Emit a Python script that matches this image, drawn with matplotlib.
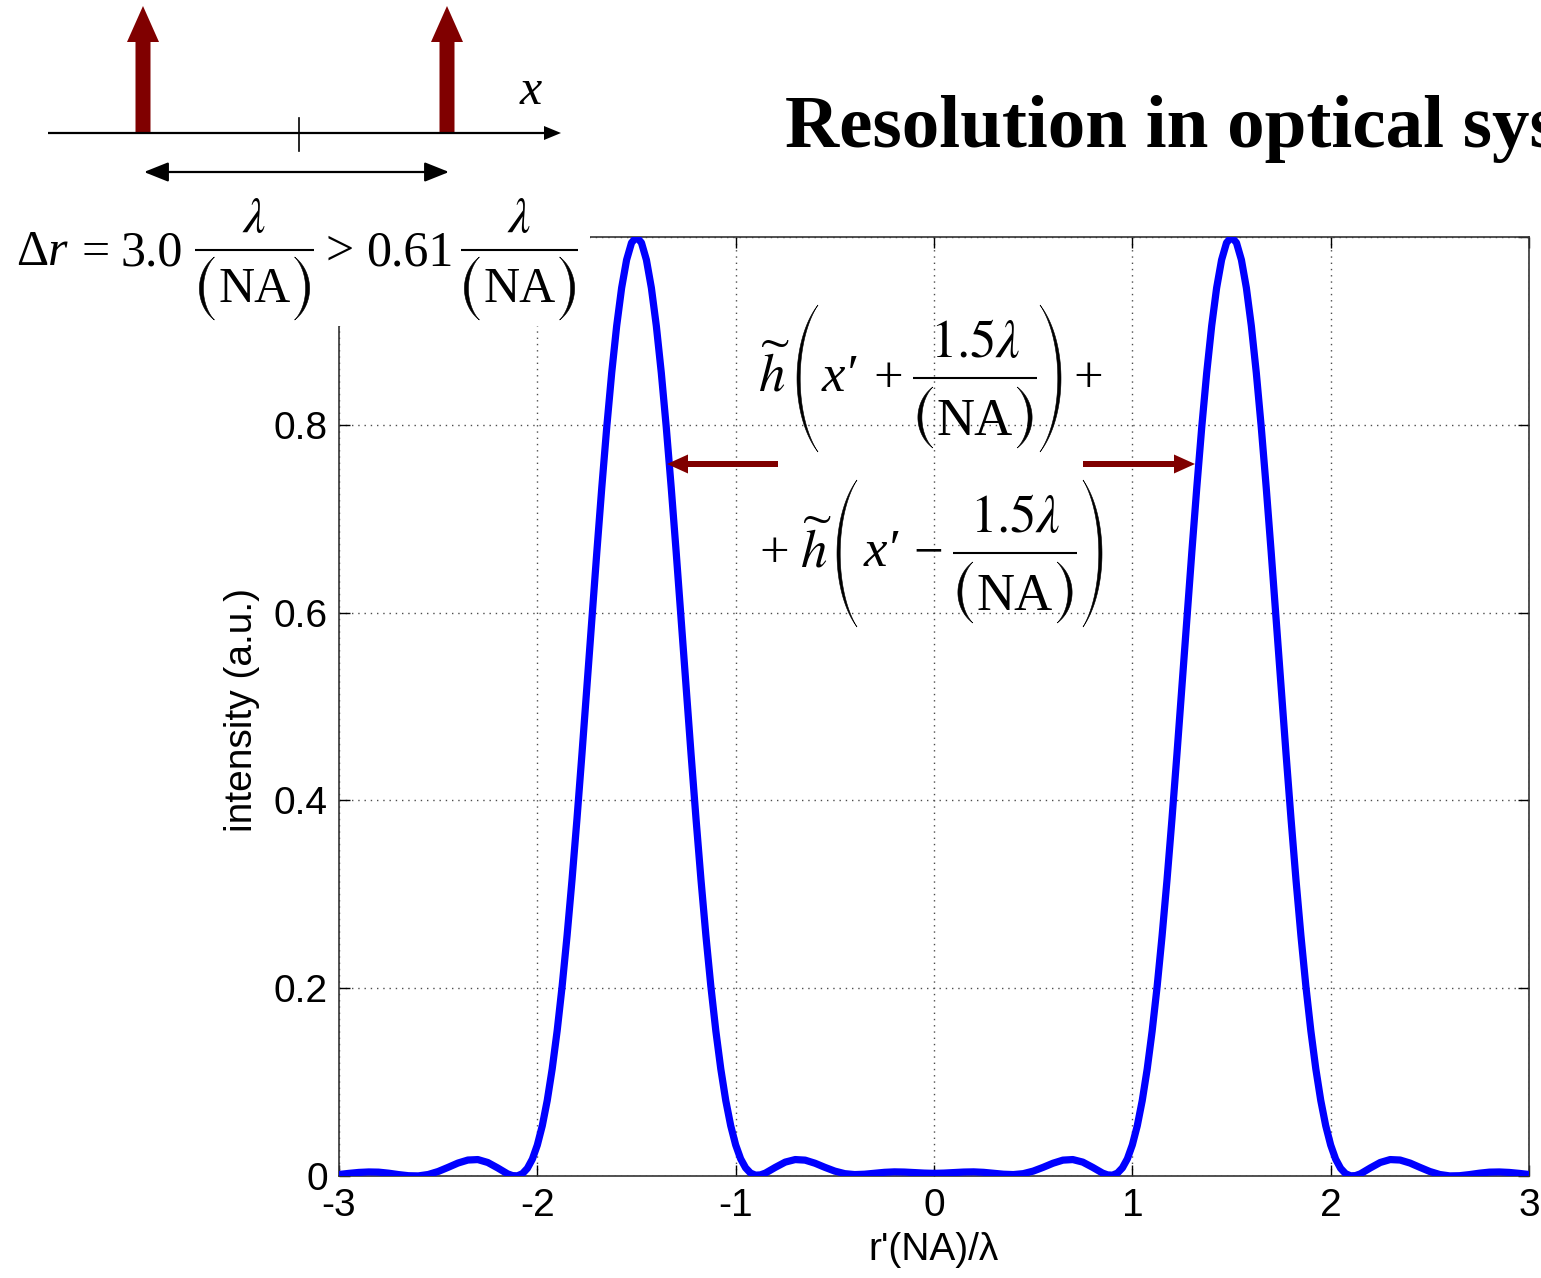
import math
import numpy as np
import matplotlib
matplotlib.use("Agg")
import matplotlib.pyplot as plt
from matplotlib.patches import Rectangle, FancyArrow, Polygon

# Two-point image: summed intensity of two shifted Airy spots
r_scaled = [
    -3.00, -2.95, -2.90, -2.85, -2.80, -2.75, -2.70, -2.65, -2.60, -2.55,
    -2.50, -2.45, -2.40, -2.35, -2.30, -2.25, -2.20, -2.15,
    -2.125, -2.100, -2.075, -2.050, -2.025, -2.000, -1.975, -1.950, -1.925,
    -1.900, -1.875, -1.850, -1.825, -1.800, -1.775, -1.750, -1.725, -1.700,
    -1.675, -1.650, -1.625, -1.600, -1.575, -1.550, -1.525, -1.500, -1.475,
    -1.450, -1.425, -1.400, -1.375, -1.350, -1.325, -1.300, -1.275, -1.250,
    -1.225, -1.200, -1.175, -1.150, -1.125, -1.100, -1.075, -1.050, -1.025,
    -1.000, -0.975, -0.950, -0.925, -0.900, -0.875,
    -0.85, -0.80, -0.75, -0.70, -0.65, -0.60, -0.55, -0.50, -0.45, -0.40,
    -0.35, -0.30, -0.25, -0.20, -0.15, -0.10, -0.05,
    0.00,
    0.05, 0.10, 0.15, 0.20, 0.25, 0.30, 0.35, 0.40, 0.45, 0.50,
    0.55, 0.60, 0.65, 0.70, 0.75, 0.80, 0.85,
    0.875, 0.900, 0.925, 0.950, 0.975, 1.000, 1.025, 1.050, 1.075, 1.100,
    1.125, 1.150, 1.175, 1.200, 1.225, 1.250, 1.275, 1.300, 1.325, 1.350,
    1.375, 1.400, 1.425, 1.450, 1.475, 1.500, 1.525, 1.550, 1.575, 1.600,
    1.625, 1.650, 1.675, 1.700, 1.725, 1.750, 1.775, 1.800, 1.825, 1.850,
    1.875, 1.900, 1.925, 1.950, 1.975, 2.000, 2.025, 2.050, 2.075, 2.100,
    2.125,
    2.15, 2.20, 2.25, 2.30, 2.35, 2.40, 2.45, 2.50, 2.55, 2.60,
    2.65, 2.70, 2.75, 2.80, 2.85, 2.90, 2.95, 3.00,
]

intensity = [
    0.0016, 0.0028, 0.0038, 0.0043, 0.0041, 0.0030, 0.0015, 0.0003, 0.0001, 0.0016,
    0.0048, 0.0092, 0.0138, 0.0170, 0.0175, 0.0144, 0.0086, 0.0023,
    0.0004, 0.0002, 0.0025, 0.0082, 0.0180, 0.0330, 0.0536, 0.0805, 0.1142,
    0.1547, 0.2021, 0.2561, 0.3157, 0.3806, 0.4495, 0.5209, 0.5931, 0.6645,
    0.7332, 0.7975, 0.8554, 0.9053, 0.9458, 0.9756, 0.9939, 1.0000, 0.9939,
    0.9756, 0.9458, 0.9053, 0.8554, 0.7975, 0.7332, 0.6645, 0.5931, 0.5209,
    0.4495, 0.3806, 0.3157, 0.2558, 0.2018, 0.1545, 0.1140, 0.0804, 0.0536,
    0.0331, 0.0183, 0.0087, 0.0031, 0.0009, 0.0012,
    0.0031, 0.0092, 0.0148, 0.0175, 0.0169, 0.0136, 0.0092, 0.0052, 0.0025, 0.0015,
    0.0019, 0.0029, 0.0039, 0.0044, 0.0042, 0.0036, 0.0031,
    0.0028,
    0.0031, 0.0036, 0.0042, 0.0044, 0.0039, 0.0029, 0.0019, 0.0015, 0.0025, 0.0052,
    0.0092, 0.0136, 0.0169, 0.0175, 0.0148, 0.0092, 0.0031,
    0.0012, 0.0009, 0.0031, 0.0087, 0.0183, 0.0331, 0.0536, 0.0804, 0.1140, 0.1545,
    0.2018, 0.2558, 0.3157, 0.3806, 0.4495, 0.5209, 0.5931, 0.6645, 0.7332, 0.7975,
    0.8554, 0.9053, 0.9458, 0.9756, 0.9939, 1.0000, 0.9939, 0.9756, 0.9458, 0.9053,
    0.8554, 0.7975, 0.7332, 0.6645, 0.5931, 0.5209, 0.4495, 0.3806, 0.3157, 0.2561,
    0.2021, 0.1547, 0.1142, 0.0805, 0.0536, 0.0330, 0.0180, 0.0082, 0.0025, 0.0002,
    0.0004,
    0.0023, 0.0086, 0.0144, 0.0175, 0.0170, 0.0138, 0.0092, 0.0048, 0.0016, 0.0001,
    0.0003, 0.0015, 0.0030, 0.0041, 0.0043, 0.0038, 0.0028, 0.0016,
]

x_ticks = [-3, -2, -1, 0, 1, 2, 3]
x_tick_labels = ["-3", "-2", "-1", "0", "1", "2", "3"]
y_ticks = [0, 0.2, 0.4, 0.6, 0.8, 1.0]
y_tick_labels = ["0", "0.2", "0.4", "0.6", "0.8", "1"]

plt.rcParams['mathtext.fontset'] = 'stix'
plt.rcParams['axes.unicode_minus'] = False
plt.rcParams['font.family'] = ['Liberation Sans', 'DejaVu Sans']

W, H = 1541, 1278
fig = plt.figure(figsize=(W / 100, H / 100), dpi=100)
fig.patch.set_facecolor('white')

ax = fig.add_axes([339 / W, 1 - 1176 / H, 1190 / W, 939 / H])
ax.plot(r_scaled, intensity, color=(0, 0, 1), lw=5.2,
        solid_joinstyle='round', solid_capstyle='butt', zorder=3)
ax.set_xlim(-3, 3)
ax.set_ylim(0, 1)
ax.set_xticks(x_ticks)
ax.set_xticklabels(x_tick_labels)
ax.set_yticks(y_ticks)
ax.set_yticklabels(y_tick_labels)
ax.tick_params(direction='in', length=8, width=1, top=True, right=True,
               labelsize=28, pad=9, colors='k')
ax.tick_params(axis='y', pad=8)
ax.grid(True, linestyle=(0, (1, 3.5)), color='0.3', lw=1)
for s in ax.spines.values():
    s.set_linewidth(1.2)
    s.set_color('0.2')
ax.set_xlabel("r'(NA)/λ", fontsize=28)
ax.set_ylabel("intensity (a.u.)", fontsize=28)
ax.xaxis.set_label_coords(0.5, -0.060)
ax.yaxis.set_label_coords(-0.066, 0.496)

# Overlay in pixel coordinates for the sketch, the formulas and the title
ov = fig.add_axes([0, 0, 1, 1], zorder=5)
ov.set_xlim(0, W)
ov.set_ylim(H, 0)
ov.axis('off')

ov.add_patch(Rectangle((0, 0), 590, 326, facecolor='white', edgecolor='none'))

dark_red = '#800000'
SERIF = ['Liberation Serif', 'DejaVu Serif']


def serif(x, y, s, fs, italic=False, ha='left'):
    ov.text(x, y, s, fontfamily=SERIF, fontsize=fs, ha=ha, va='baseline',
            fontstyle='italic' if italic else 'normal')


def paren(x_left, x_right, y_top, y_bot, side, thick):
    """Tapered round bracket drawn as a filled crescent."""
    alpha = math.radians(55)
    phi = np.linspace(-alpha, alpha, 60)
    hh = (y_bot - y_top) / 2
    cy = (y_top + y_bot) / 2
    ys = cy + hh * np.sin(phi) / math.sin(alpha)
    bulge = (np.cos(phi) - math.cos(alpha)) / (1 - math.cos(alpha))
    w = x_right - x_left
    if side == 'left':
        outer = x_right - w * bulge
        inner = x_right - (w - thick) * bulge
    else:
        outer = x_left + w * bulge
        inner = x_left + (w - thick) * bulge
    pts = np.concatenate([np.column_stack([outer, ys]),
                          np.column_stack([inner[::-1], ys[::-1]])])
    ov.add_patch(Polygon(pts, closed=True, facecolor='k', edgecolor='k', lw=0.4))


def na_fraction(x0, x1, bar_y, num, fs, num_gap, den_gap, p_top, p_bot):
    cx = (x0 + x1) / 2
    ov.plot([x0, x1], [bar_y, bar_y], color='k', lw=1.5, solid_capstyle='butt')
    ov.text(cx, bar_y - num_gap, num, fontsize=fs, ha='center', va='baseline')
    serif(cx, bar_y + den_gap, 'NA', fs, ha='center')
    half = 0.722 * fs * 100 / 72
    paren(cx - half - 19, cx - half - 4, bar_y + p_top, bar_y + p_bot, 'left', 4)
    paren(cx + half + 4, cx + half + 19, bar_y + p_top, bar_y + p_bot, 'right', 4)


# point-source sketch
ov.plot([48, 548], [133, 133], color='k', lw=1.6, solid_capstyle='butt')
ov.add_patch(Polygon([[544, 126], [561, 133], [544, 140]], closed=True,
                     facecolor='k', edgecolor='none'))
ov.plot([299, 299], [118, 151], color='k', lw=1.2)
for xc in (143, 447):
    ov.add_patch(FancyArrow(xc, 133, 0, -127, width=15, head_width=32,
                            head_length=36, length_includes_head=True,
                            facecolor=dark_red, edgecolor='none'))
ov.annotate('', xy=(449, 172), xytext=(144, 172),
            arrowprops=dict(arrowstyle='<|-|>,head_length=0.75,head_width=0.3',
                            color='k', lw=1.6, shrinkA=0, shrinkB=0,
                            mutation_scale=20))
serif(531, 104, 'x', 36, italic=True, ha='center')

# resolution criterion
FS1 = 36
serif(16, 265, 'Δ', FS1)
serif(48, 265, 'r', FS1, italic=True)
serif(82, 265, '=', FS1)
serif(121, 265, '3.0', FS1)
na_fraction(195, 314, 250, r'$\lambda$', FS1, 18, 52, 7, 70)
serif(326, 265, '>', FS1)
serif(366, 265, '0.61', FS1)
na_fraction(461, 578, 250, r'$\lambda$', FS1, 18, 52, 7, 70)

# superposition formula
FS2 = 38
ov.text(758, 392, r'$\widetilde{h}$', fontsize=FS2, ha='left', va='baseline')
paren(797, 818, 305, 452, 'left', 3.2)
serif(822, 391, 'x′', FS2, italic=True)
serif(888, 392, '+', FS2, ha='center')
na_fraction(913, 1037, 378, r'$\mathrm{1.5}\lambda$', FS2, 21, 57, 9, 70)
paren(1040, 1061, 305, 452, 'right', 3.2)
serif(1088, 392, '+', FS2, ha='center')

serif(774, 567, '+', FS2, ha='center')
ov.text(800, 567, r'$\widetilde{h}$', fontsize=FS2, ha='left', va='baseline')
paren(837, 857, 480, 627, 'left', 3.2)
serif(864, 566, 'x′', FS2, italic=True)
serif(928, 567, '\u2212', FS2, ha='center')
na_fraction(953, 1077, 553, r'$\mathrm{1.5}\lambda$', FS2, 21, 57, 9, 70)
paren(1083, 1102, 480, 627, 'right', 3.2)

ov.add_patch(FancyArrow(778, 464, -111, 0, width=6, head_width=19,
                        head_length=21, length_includes_head=True,
                        facecolor=dark_red, edgecolor='none'))
ov.add_patch(FancyArrow(1083, 464, 112, 0, width=6, head_width=19,
                        head_length=21, length_includes_head=True,
                        facecolor=dark_red, edgecolor='none'))

ov.text(785, 147, 'Resolution in optical systems', fontfamily=SERIF,
        fontweight='bold', fontsize=54, ha='left', va='baseline')

fig.savefig('out.png', dpi=100, facecolor='white')
